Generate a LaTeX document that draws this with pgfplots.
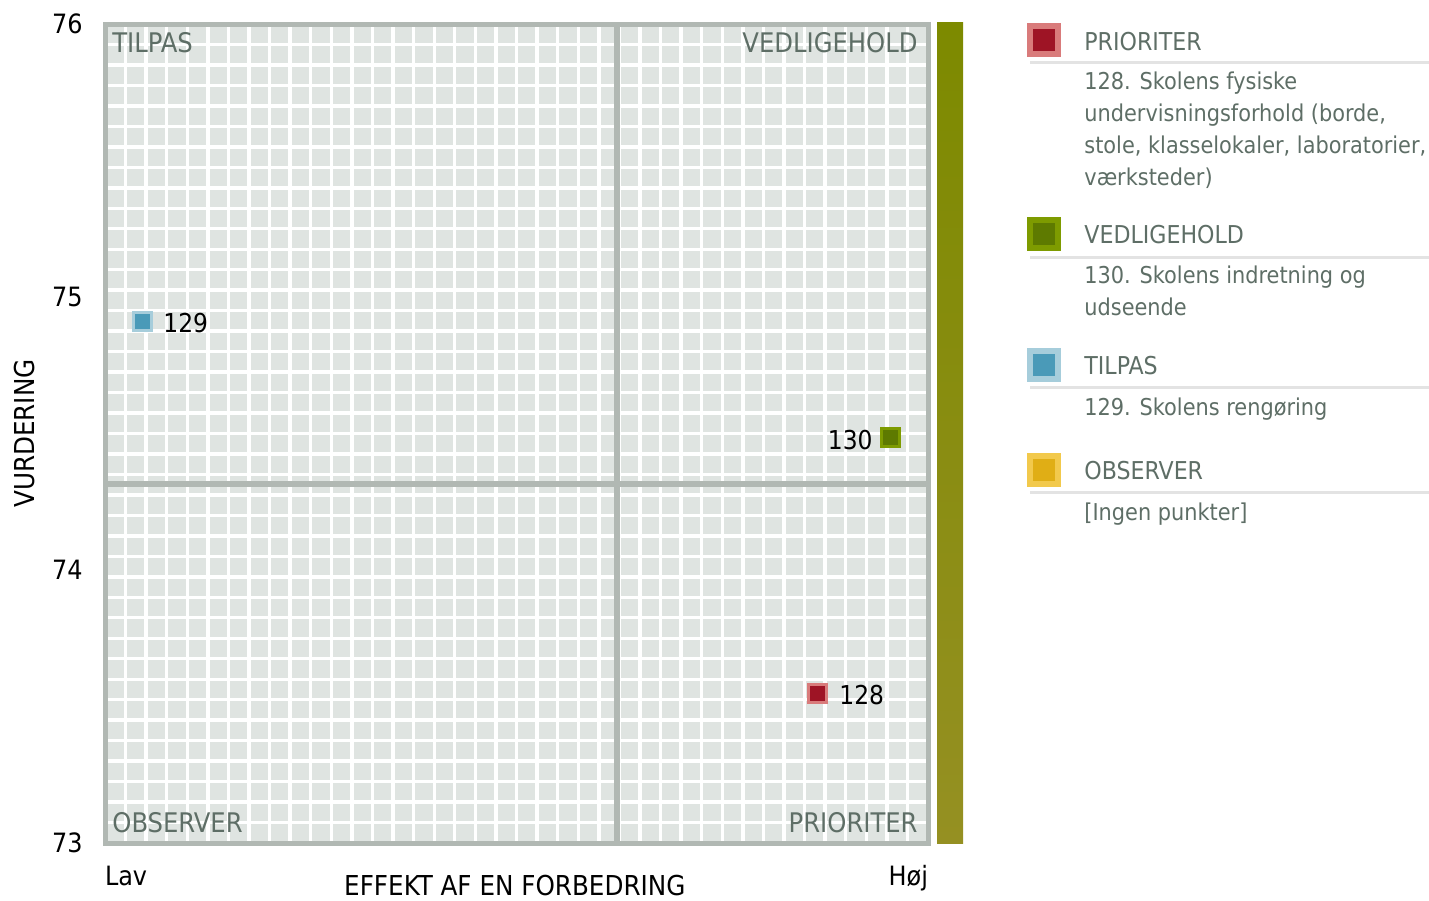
\documentclass[border=0pt]{standalone}
\usepackage{fontspec}
\setmainfont{DejaVu Sans Condensed}
\usepackage{pgfplots}
\pgfplotsset{compat=1.18}
\definecolor{cellbg}{HTML}{DFE4E1}
\definecolor{frame}{HTML}{B1B8B3}
\definecolor{txtgray}{HTML}{5E6E66}
\definecolor{sepline}{HTML}{E3E3E3}
\definecolor{redin}{HTML}{9E1425}
\definecolor{redout}{HTML}{D97B7B}
\definecolor{grnin}{HTML}{5E7A00}
\definecolor{grnout}{HTML}{7E9B00}
\definecolor{bluin}{HTML}{4A9AB8}
\definecolor{bluout}{HTML}{A6CDDB}
\definecolor{yelin}{HTML}{E0AE15}
\definecolor{yelout}{HTML}{F2C94C}
\definecolor{bartop}{HTML}{7D8A00}
\definecolor{barbot}{HTML}{959022}

\begin{document}
\begin{tikzpicture}
\useasboundingbox (0,0) rectangle (714.5pt,-450pt);

% main quadrant chart
\begin{axis}[
 at={(52.5pt,-421.5pt)},anchor=south west,
 width=411.5pt,height=409.5pt,scale only axis,
 xmin=0,xmax=1,ymin=73,ymax=76,
 /pgf/number format/assume math mode=true,
 axis background/.style={fill=cellbg},
 xtick={0,1},
 xticklabels={\makebox[0pt][l]{Lav},\makebox[0pt][r]{Høj}},
 ytick={73,74,75,76},
 minor xtick={0.025,0.05,...,0.976},
 minor ytick={73.075,73.15,...,75.93},
 major tick length=0pt,minor tick length=0pt,
 grid=minor,
 minor grid style={white,line width=1.7pt},
 axis line style={frame,line width=2.5pt},
 tick label style={font=\fontsize{13.3}{15}\selectfont,inner sep=0pt},
 yticklabel style={anchor=east,xshift=-11pt},
 xticklabel style={anchor=base,yshift=-21pt},
 xlabel={EFFEKT AF EN FORBEDRING},
 ylabel={VURDERING},
 label style={font=\fontsize{13.7}{15}\selectfont},
 xlabel style={at={(axis description cs:0.498,-0.0525)},anchor=center},
 ylabel style={at={(axis description cs:-0.0972,0.5)},anchor=center},
 clip=false]
\draw[frame,line width=3pt] (axis cs:0.622,73) -- (axis cs:0.622,76);
\draw[frame,line width=3pt] (axis cs:0,74.315) -- (axis cs:1,74.315);
% 128 PRIORITER
\addplot[only marks,mark=square*,mark size=4.5pt,
 mark options={draw=redout,fill=redin,line width=1.5pt}]
 coordinates {(0.866,73.546)};
% 130 VEDLIGEHOLD
\addplot[only marks,mark=square*,mark size=4.5pt,
 mark options={draw=grnout,fill=grnin,line width=1.5pt}]
 coordinates {(0.954,74.487)};
% 129 TILPAS
\addplot[only marks,mark=square*,mark size=4.5pt,
 mark options={draw=bluout,fill=bluin,line width=1.5pt}]
 coordinates {(0.045,74.912)};
\end{axis}

% overlay in pixel units: labels, bar and legend
\begin{axis}[
 at={(0pt,0pt)},anchor=north west,
 width=714.5pt,height=450pt,scale only axis,
 xmin=0,xmax=1429,ymin=0,ymax=900,y dir=reverse,
 hide axis,clip=false]
\shade[top color=bartop,bottom color=barbot] (axis cs:937,22) rectangle (axis cs:963,843);

\begin{scope}[font=\fontsize{13}{15}\selectfont]
\node[anchor=west,inner sep=0pt] at (axis cs:163,323) {129};
\node[anchor=east,inner sep=0pt] at (axis cs:873,440) {130};
\node[anchor=west,inner sep=0pt] at (axis cs:839,695) {128};
\end{scope}

\begin{scope}[font=\fontsize{13.5}{15}\selectfont,text=txtgray,inner sep=0pt]
\node[anchor=west] at (axis cs:112,43) {TILPAS};
\node[anchor=east] at (axis cs:918,43) {VEDLIGEHOLD};
\node[anchor=west] at (axis cs:112,823) {OBSERVER};
\node[anchor=east] at (axis cs:918,823) {PRIORITER};
\end{scope}

% legend
\addplot[only marks,mark=square*,mark size=7pt,
 mark options={draw=redout,fill=redin,line width=3pt}] coordinates {(1044,40)};
\addplot[only marks,mark=square*,mark size=7pt,
 mark options={draw=grnout,fill=grnin,line width=3pt}] coordinates {(1044,234)};
\addplot[only marks,mark=square*,mark size=7pt,
 mark options={draw=bluout,fill=bluin,line width=3pt}] coordinates {(1044,365)};
\addplot[only marks,mark=square*,mark size=7pt,
 mark options={draw=yelout,fill=yelin,line width=3pt}] coordinates {(1044,470)};

\begin{scope}[sepline,line width=1.5pt]
\draw (axis cs:1030,62) -- (axis cs:1429,62);
\draw (axis cs:1030,257) -- (axis cs:1429,257);
\draw (axis cs:1030,387) -- (axis cs:1429,387);
\draw (axis cs:1030,492) -- (axis cs:1429,492);
\end{scope}

\begin{scope}[font=\fontsize{12.3}{14}\selectfont,text=txtgray,inner sep=0pt,anchor=base west]
\node at (axis cs:1084,50) {PRIORITER};
\node at (axis cs:1084,243) {VEDLIGEHOLD};
\node at (axis cs:1084,374) {TILPAS};
\node at (axis cs:1084,479) {OBSERVER};
\end{scope}
\begin{scope}[font=\fontsize{11.6}{14}\selectfont,text=txtgray,inner sep=0pt,anchor=base west]
\node at (axis cs:1084,89) {128. Skolens fysiske};
\node at (axis cs:1084,121) {undervisningsforhold (borde,};
\node at (axis cs:1084,153) {stole, klasselokaler, laboratorier,};
\node at (axis cs:1084,185) {værksteder)};
\node at (axis cs:1084,283) {130. Skolens indretning og};
\node at (axis cs:1084,315) {udseende};
\node at (axis cs:1084,415) {129. Skolens rengøring};
\node at (axis cs:1084,520) {[Ingen punkter]};
\end{scope}
\end{axis}
\end{tikzpicture}
\end{document}
